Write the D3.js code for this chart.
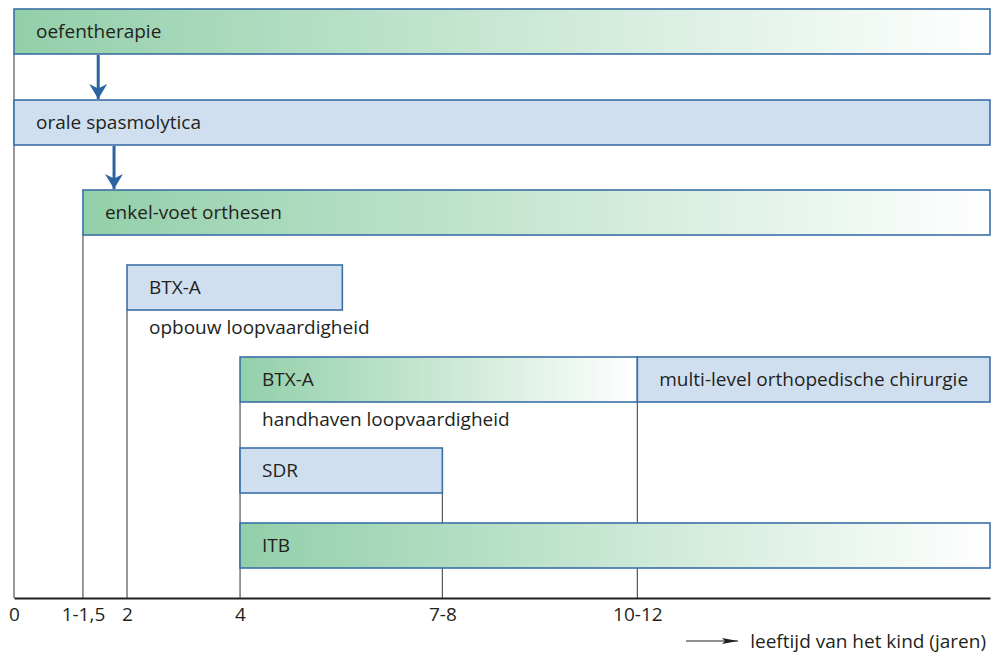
<!DOCTYPE html>
<html>
<head>
<meta charset="utf-8">
<script src="https://cdn.jsdelivr.net/npm/d3@7"></script>
<style>
  html, body { margin: 0; padding: 0; background: #fff; }
  svg text { font-family: "Open Sans", "Noto Sans", sans-serif; fill: #231f20; }
</style>
</head>
<body>
<svg id="chart" width="992" height="658"></svg>
<script>
// ---- data ----
const tickValues = [0, 1.22, 2, 4, 7.58, 11.03];
const tickLabels = ["0", "1-1,5", "2", "4", "7-8", "10-12"];
const axisMax = 17.27;
const axisTitle = "leeftijd van het kind (jaren)";

const barNames  = ["oefentherapie", "orale spasmolytica", "enkel-voet orthesen", "BTX-A", "BTX-A", "multi-level orthopedische chirurgie", "SDR", "ITB"];
const barStarts = [0, 0, 1.22, 2, 4, 11.03, 4, 4];
const barEnds   = [axisMax, axisMax, axisMax, 5.81, 11.03, axisMax, 7.58, axisMax];
const barRows   = [0, 1, 2, 3, 4, 4, 5, 6];
const barKinds  = ["green", "blue", "green", "blue", "green", "blue", "blue", "green"];

const subNames = ["opbouw loopvaardigheid", "handhaven loopvaardigheid"];
const subRows  = [3, 4];
const subStarts = [2, 4];

const guideX    = [0, 1.22, 2, 4, 7.58, 11.03];
const guideRows = [0, 2, 3, 4, 5, 4];

const arrowX    = [1.49, 1.77];
const arrowFrom = [0, 1];

// ---- layout ----
const svg = d3.select("#chart");
const x = d3.scaleLinear().domain([0, axisMax]).range([14, 990]);
const rowTop = d3.scaleOrdinal().domain([0,1,2,3,4,5,6]).range([9, 100, 190, 265, 357, 448, 523]);
const barH = 45;
const axisY = 598;
const fs = 19;
const blueFill = "#d0dff0", strokeCol = "#3a70a5", greenCol = "#92cfa9";

const defs = svg.append("defs");
barNames.forEach((n, i) => {
  if (barKinds[i] !== "green") return;
  const g = defs.append("linearGradient").attr("id", "grad" + i)
    .attr("x1", "0%").attr("x2", "100%").attr("y1", "0%").attr("y2", "0%");
  g.append("stop").attr("offset", "0%").attr("stop-color", greenCol);
  g.append("stop").attr("offset", "100%").attr("stop-color", "#ffffff");
});
const m = defs.append("marker").attr("id", "ah").attr("viewBox", "0 0 10 12")
  .attr("refX", 10).attr("refY", 6).attr("markerWidth", 5).attr("markerHeight", 6)
  .attr("orient", "auto").attr("markerUnits", "strokeWidth");
m.append("path").attr("d", "M0,0 L10,6 L0,12 L3,6 Z").attr("fill", "#2b64a0");
const m2 = defs.append("marker").attr("id", "ah2").attr("viewBox", "0 0 16 6")
  .attr("refX", 16).attr("refY", 3).attr("markerWidth", 16).attr("markerHeight", 6)
  .attr("orient", "auto").attr("markerUnits", "userSpaceOnUse");
m2.append("path").attr("d", "M0,0 L16,3 L0,6 L3,3 Z").attr("fill", "#231f20");

// guide lines
svg.append("g").selectAll("line").data(guideX).join("line")
  .attr("x1", d => x(d)).attr("x2", d => x(d))
  .attr("y1", (d, i) => rowTop(guideRows[i]) + barH)
  .attr("y2", axisY)
  .attr("stroke", "#555").attr("stroke-width", 1.2);

// bars
const bars = svg.append("g").selectAll("g").data(barNames).join("g");
bars.append("rect")
  .attr("x", (d, i) => x(barStarts[i]))
  .attr("y", (d, i) => rowTop(barRows[i]))
  .attr("width", (d, i) => x(barEnds[i]) - x(barStarts[i]))
  .attr("height", barH)
  .attr("fill", (d, i) => barKinds[i] === "green" ? `url(#grad${i})` : blueFill)
  .attr("stroke", strokeCol).attr("stroke-width", 1.6);
bars.append("text")
  .attr("x", (d, i) => i === 5 ? (x(barStarts[i]) + x(barEnds[i])) / 2 : x(barStarts[i]) + 22)
  .attr("y", (d, i) => rowTop(barRows[i]) + barH / 2)
  .attr("dy", "0.36em")
  .attr("text-anchor", (d, i) => i === 5 ? "middle" : "start")
  .attr("font-size", fs)
  .text(d => d);

// sub labels
svg.append("g").selectAll("text").data(subNames).join("text")
  .attr("x", (d, i) => x(subStarts[i]) + 22)
  .attr("y", (d, i) => rowTop(subRows[i]) + barH + 17)
  .attr("dy", "0.36em")
  .attr("font-size", fs)
  .text(d => d);

// arrows
svg.append("g").selectAll("line").data(arrowX).join("line")
  .attr("x1", d => x(d)).attr("x2", d => x(d))
  .attr("y1", (d, i) => rowTop(arrowFrom[i]) + barH + 1)
  .attr("y2", (d, i) => rowTop(arrowFrom[i] + 1) - 1)
  .attr("stroke", "#2b64a0").attr("stroke-width", 3)
  .attr("marker-end", "url(#ah)");

// axis
const axis = d3.axisBottom(x).tickValues(tickValues)
  .tickFormat((d, i) => tickLabels[i]).tickSize(0).tickPadding(10);
const ax = svg.append("g").attr("transform", `translate(0,${axisY})`).call(axis);
ax.select(".domain").attr("stroke", "#231f20").attr("stroke-width", 2);
ax.selectAll("text").attr("font-size", fs).attr("font-family", "Open Sans").attr("fill", "#231f20");

// axis title with arrow
svg.append("line").attr("x1", 686).attr("x2", 738).attr("y1", 641).attr("y2", 641)
  .attr("stroke", "#231f20").attr("stroke-width", 1.2).attr("marker-end", "url(#ah2)");
svg.append("text").attr("x", 986).attr("y", 641).attr("dy", "0.36em")
  .attr("text-anchor", "end").attr("font-size", fs).text(axisTitle);
</script>
</body>
</html>
